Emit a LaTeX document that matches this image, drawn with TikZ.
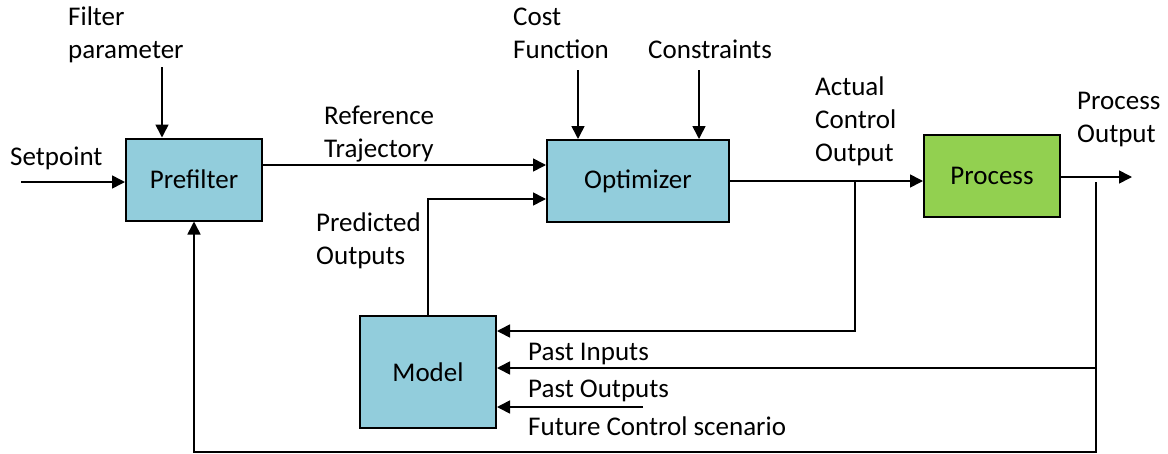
\documentclass[tikz,border=0pt]{standalone}
\usepackage{fontspec}
\setmainfont{Carlito}
\usetikzlibrary{arrows.meta}
\definecolor{blockblue}{HTML}{92CDDC}
\definecolor{procgreen}{HTML}{92D050}
\begin{document}
\begin{tikzpicture}[x=1pt,y=-1pt,
  every node/.style={font=\fontsize{27}{33}\selectfont},
  blk/.style={draw=black, line width=2pt, fill=blockblue, inner sep=0pt, minimum width=136pt, minimum height=82pt},
  lbl/.style={anchor=base west, inner sep=0pt, align=left},
  conn/.style={line width=1.6pt, -{Triangle[length=13pt,width=13pt]}},
  wire/.style={line width=1.6pt}]
\useasboundingbox (0,0) rectangle (1168,453);

% blocks
\node[blk] (pre) at (194,179.5) {Prefilter};
\node[blk, minimum width=182pt] (opt) at (638,181) {Optimizer};
\node[blk, fill=procgreen] (proc) at (992,176) {Process};
\node[blk, minimum height=112pt] (mod) at (428,372) {Model};

% helper coordinates
\coordinate (sp) at (21,182);
\coordinate (fp) at (162,67);
\coordinate (yref) at (0,165);
\coordinate (ypred) at (0,199);
\coordinate (cf) at (578,70);
\coordinate (cs) at (699,70);
\coordinate (yctl) at (0,181);
\coordinate (tap1) at (855,181);
\coordinate (yin) at (0,331);
\coordinate (yout) at (0,177);
\coordinate (pout) at (1132,177);
\coordinate (tap2) at (1096,182);
\coordinate (ypo) at (0,368);
\coordinate (corner) at (1096,452);
\coordinate (fut) at (643,407);

% connectors
\draw[conn] (sp) -- (sp -| pre.west);
\draw[conn] (fp) -- (fp |- pre.north);
\draw[conn] (pre.east |- yref) -- (opt.west |- yref);
\draw[conn] (mod.north) |- (opt.west |- ypred);
\draw[conn] (cf) -- (cf |- opt.north);
\draw[conn] (cs) -- (cs |- opt.north);
\draw[conn] (opt.east |- yctl) -- (proc.west |- yctl);
\draw[conn] (tap1) |- (mod.east |- yin);
\draw[conn] (proc.east |- yout) -- (pout);
\draw[conn] (tap2) |- (mod.east |- ypo);
\draw[conn] (tap2) -- (corner) -| (pre.south);
\draw[conn] (fut) -- (mod.east |- fut);

% labels (anchor at baseline of last line)
\node[lbl] (lsp) at (10,165) {Setpoint};
\node[lbl] (lfp) at (68,58) {Filter\\parameter};
\node[lbl] (lref) at (324,157) {Reference\\Trajectory};
\node[lbl] (lcf) at (513,58) {Cost\\Function};
\node[lbl] (lcs) at (648,58) {Constraints};
\node[lbl] (lpred) at (316,264) {Predicted\\Outputs};
\node[lbl] (lact) at (815,161) {Actual\\Control\\Output};
\node[lbl] (lpo) at (1077,142) {Process\\Output};
\node[lbl] (lpi) at (528,360) {Past Inputs};
\node[lbl] (lpout) at (528,397) {Past Outputs};
\node[lbl] (lfut) at (528,435) {Future Control scenario};
\end{tikzpicture}
\end{document}
